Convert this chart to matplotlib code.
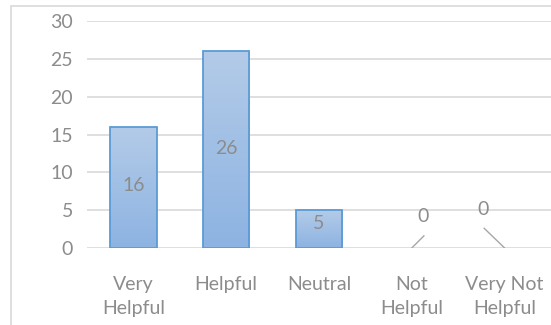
import numpy as np
import matplotlib.pyplot as plt
from matplotlib.patches import Rectangle
from matplotlib.colors import LinearSegmentedColormap

plt.rcParams['font.family'] = ['Lato', 'DejaVu Sans']

categories = ["Very\nHelpful", "Helpful", "Neutral", "Not\nHelpful", "Very Not\nHelpful"]
counts = [16, 26, 5, 0, 0]

grey = "#8c8c8c"
fs = 14
fig = plt.figure(figsize=(5.51, 3.25), dpi=100)
# outer chart frame
fig.patches.append(Rectangle((0.02, -0.2), 1.2, 0.2 + 0.9815, transform=fig.transFigure,
                             fill=False, edgecolor="#d9d9d9", linewidth=1.2))
ax = fig.add_axes([0.158, 0.237, 0.842, 0.698])

x = np.arange(len(categories))
edge_w = [1.3 if v > 0 else 0 for v in counts]
bars = ax.bar(x, counts, width=0.5, color="none", edgecolor="#5b9bd5", linewidth=edge_w, zorder=3)

# vertical gradient fill inside each bar
cmap = LinearSegmentedColormap.from_list("blues", ["#8db3e2", "#b3cbe8"])
grad = np.linspace(0, 1, 256).reshape(-1, 1)
for b in bars:
    if b.get_height() <= 0:
        continue
    x0, w, h = b.get_x(), b.get_width(), b.get_height()
    im = ax.imshow(grad, cmap=cmap, extent=[x0, x0 + w, 0, h], origin="lower",
                   aspect="auto", zorder=2)
    im.set_clip_path(b)

ax.set_xlim(-0.5, 4.5)
ax.set_ylim(0, 30)
ax.set_yticks(range(0, 31, 5))
ax.set_xticks(x)
ax.set_xticklabels(categories, fontsize=fs, color=grey, linespacing=1.55)
ax.tick_params(axis="y", labelsize=fs, labelcolor=grey, length=0, pad=10)
ax.tick_params(axis="x", length=0, pad=20)
ax.grid(axis="y", color="#d9d9d9", linewidth=1.2, zorder=0)
ax.set_axisbelow(True)
for s in ax.spines.values():
    s.set_visible(False)

# value labels
label_y = [8.2, 13.1, 3.3]
for xi, v, ly in zip(x[:3], counts[:3], label_y):
    ax.text(xi, ly, str(v), ha="center", va="center", fontsize=fs, color=grey, zorder=4)

# zero labels with leader lines
ax.text(3.12, 4.2, str(counts[3]), ha="center", va="center", fontsize=fs, color=grey)
ax.plot([3.0, 3.13], [counts[3], 1.6], color="#a6a6a6", linewidth=1)
ax.text(3.77, 5.1, str(counts[4]), ha="center", va="center", fontsize=fs, color=grey)
ax.plot([3.78, 4.0], [2.6, counts[4]], color="#a6a6a6", linewidth=1)

fig.savefig("out.png", dpi=100)
